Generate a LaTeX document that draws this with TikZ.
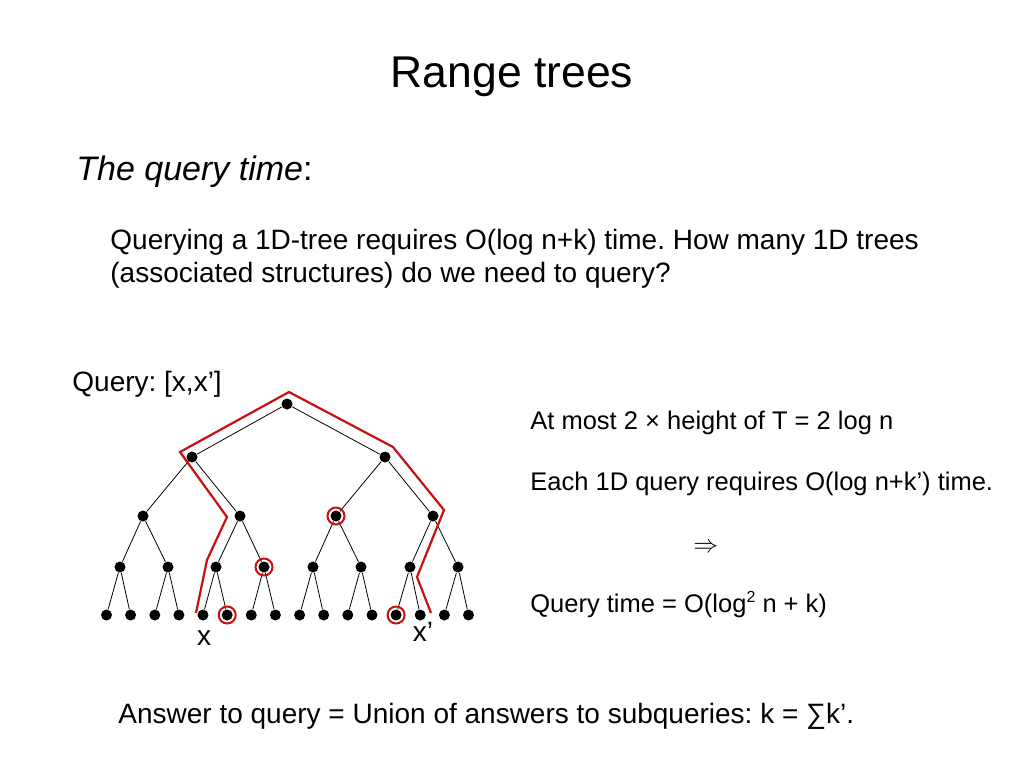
\documentclass[tikz,border=0pt]{standalone}
\usepackage{fontspec}
\setmainfont{Liberation Sans}
\frenchspacing
\definecolor{qred}{RGB}{200,16,16}
\tikzset{
  dot/.style={circle, fill=black, inner sep=0pt, minimum size=11pt},
  hit/.style={circle, draw=qred, line width=2pt, inner sep=0pt, minimum size=17pt},
  txt/.style={anchor=base west, inner sep=0pt, font=\fontsize{25.5}{30}\selectfont},
}
\newcommand{\sqtwo}{\raisebox{0.36em}{\fontsize{16}{16}\selectfont 2}}
\begin{document}
\begin{tikzpicture}[x=1pt, y=-1pt, line width=0.8pt]
            \useasboundingbox (0,0) rectangle (1024,768);
            \node[anchor=base, inner sep=0pt, font=\fontsize{44.5}{52}\selectfont] (title) at (512, 87) {Range trees};
            \node[anchor=base west, inner sep=0pt, font=\fontsize{34}{40}\selectfont] (head) at (76, 180) {\textit{The query time}:};
            \node[anchor=base west, inner sep=0pt, font=\fontsize{28}{33}\selectfont] (q1) at (110, 249) {Querying a 1D-tree requires O(log n+k) time. How many 1D trees};
            \node[anchor=base west, inner sep=0pt, font=\fontsize{28}{33}\selectfont] (q2) at (110, 282) {(associated structures) do we need to query?};
            \node[anchor=base west, inner sep=0pt, font=\fontsize{28}{33}\selectfont] (query) at (72, 391) {Query: [x,x’]};
            % the tree
            \node[dot](1) at (287, 404) {};
            \node[dot](2) at (192, 457) {};
            \node[dot](3) at (385, 457) {};
            \path[] (1) edge (2) (1) edge (3);
            \node[dot](4) at (143, 516) {};
            \node[dot](5) at (240, 516) {};
            \node[dot](6) at (336, 516) {};
            \node[dot](7) at (433, 516) {};
            \path[] (2) edge (4) (2) edge (5) (3) edge (6) (3) edge (7);
            \node[dot](8) at (120, 567) {};
            \node[dot](9) at (168, 567) {};
            \node[dot](10) at (216, 567) {};
            \node[dot](11) at (264, 567) {};
            \node[dot](12) at (313, 567) {};
            \node[dot](13) at (361, 567) {};
            \node[dot](14) at (410, 567) {};
            \node[dot](15) at (458, 567) {};
            \path[] (4) edge (8) (4) edge (9) (5) edge (10) (5) edge (11);
            \path[] (6) edge (12) (6) edge (13) (7) edge (14) (7) edge (15);
            \node[dot](16) at (106.5, 615) {};
            \node[dot](17) at (130.6, 615) {};
            \node[dot](18) at (154.8, 615) {};
            \node[dot](19) at (178.9, 615) {};
            \node[dot](20) at (203.0, 615) {};
            \node[dot](21) at (227.2, 615) {};
            \node[dot](22) at (251.3, 615) {};
            \node[dot](23) at (275.4, 615) {};
            \node[dot](24) at (299.6, 615) {};
            \node[dot](25) at (323.7, 615) {};
            \node[dot](26) at (347.8, 615) {};
            \node[dot](27) at (372.0, 615) {};
            \node[dot](28) at (396.1, 615) {};
            \node[dot](29) at (420.2, 615) {};
            \node[dot](30) at (444.4, 615) {};
            \node[dot](31) at (468.5, 615) {};
            \path[] (8) edge (16) (8) edge (17) (9) edge (18) (9) edge (19);
            \path[] (10) edge (20) (10) edge (21) (11) edge (22) (11) edge (23);
            \path[] (12) edge (24) (12) edge (25) (13) edge (26) (13) edge (27);
            \path[] (14) edge (28) (14) edge (29) (15) edge (30) (15) edge (31);
            % selected subtrees
            \node[hit] at (6) {};
            \node[hit] at (11) {};
            \node[hit] at (21) {};
            \node[hit] at (28) {};
            % search paths
            \draw[qred, line width=2.2pt] (196, 613) -- (207, 560) -- (227, 517) -- (180, 452) -- (289, 392)
                -- (393, 447) -- (444, 510) -- (417, 577) -- (431, 613);
            \node[anchor=base, inner sep=0pt, font=\fontsize{28}{33}\selectfont] (x) at (204, 645) {x};
            \node[anchor=base, inner sep=0pt, font=\fontsize{28}{33}\selectfont] (x') at (423, 641) {x’};
            % right column
            \node[txt] (r1) at (530, 429) {At most 2 × height of T = 2 log n};
            \node[txt] (r2) at (530, 490) {Each 1D query requires O(log n+k’) time.};
            \node[anchor=base west, inner sep=0pt, font=\fontsize{27}{30}\selectfont] (r3) at (693, 552) {$\Rightarrow$};
            \node[txt] (r4) at (530, 612) {Query time = O(log\sqtwo{} n + k)};
            \node[anchor=base west, inner sep=0pt, font=\fontsize{28}{33}\selectfont] (ans) at (118, 723) {Answer to query = Union of answers to subqueries: k = ∑k’.};
        \end{tikzpicture}
\end{document}
